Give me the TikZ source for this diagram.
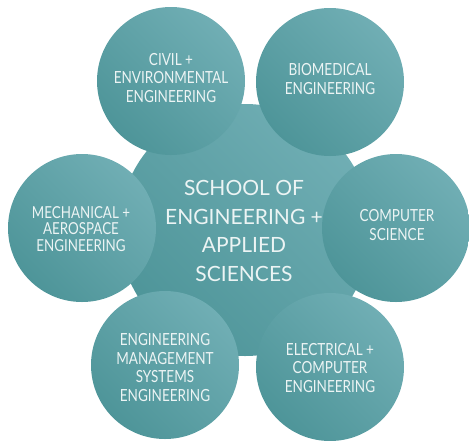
\documentclass[tikz,border=0pt]{standalone}
\usepackage{fontspec}
\setmainfont{Lato}[FakeStretch=0.81]
\newfontfamily\hubfont{Lato}
\definecolor{tealD}{RGB}{78,149,153}
\definecolor{tealL}{RGB}{112,174,180}
\definecolor{txt}{RGB}{236,244,244}
\begin{document}
\begin{tikzpicture}[x=1pt,y=-1pt,
  bubble/.style={circle,inner sep=0pt,minimum size=148pt,top color=tealL,middle color=tealD,bottom color=tealD,shading angle=-45},
  hub/.style={circle,inner sep=0pt,minimum size=252pt,top color=tealL,middle color=tealD,bottom color=tealD,shading angle=-45},
  lbl/.style={text=txt,align=center,font=\fontsize{16.7}{18.8}\selectfont},
  hublbl/.style={text=txt,align=center,font=\hubfont\fontsize{21}{28.5}\selectfont}]
\useasboundingbox (0,0) rectangle (469,440);
\node[hub] (hub) at (245,230) {};
\node[bubble] (civil) at (171,81) {};
\node[bubble] (bio) at (330,82) {};
\node[bubble] (mech) at (82,228) {};
\node[bubble] (cs) at (396,228) {};
\node[bubble] (ems) at (165,365) {};
\node[bubble] (ece) at (330,367) {};
\node[hublbl] (hubt) at (244,231) {SCHOOL OF\\ENGINEERING +\\APPLIED\\SCIENCES};
\node[lbl] (civilt) at (171,78) {CIVIL +\\ENVIRONMENTAL\\ENGINEERING};
\node[lbl] (biot) at (330,79) {BIOMEDICAL\\ENGINEERING};
\node[lbl,font=\fontsize{16.5}{16.5}\selectfont] (mecht) at (81,229) {MECHANICAL +\\AEROSPACE\\ENGINEERING};
\node[lbl] (cst) at (397,225) {COMPUTER\\SCIENCE};
\node[lbl] (emst) at (165,367.5) {ENGINEERING\\MANAGEMENT\\SYSTEMS\\ENGINEERING};
\node[lbl] (ecet) at (330,368) {ELECTRICAL +\\COMPUTER\\ENGINEERING};
\end{tikzpicture}
\end{document}
